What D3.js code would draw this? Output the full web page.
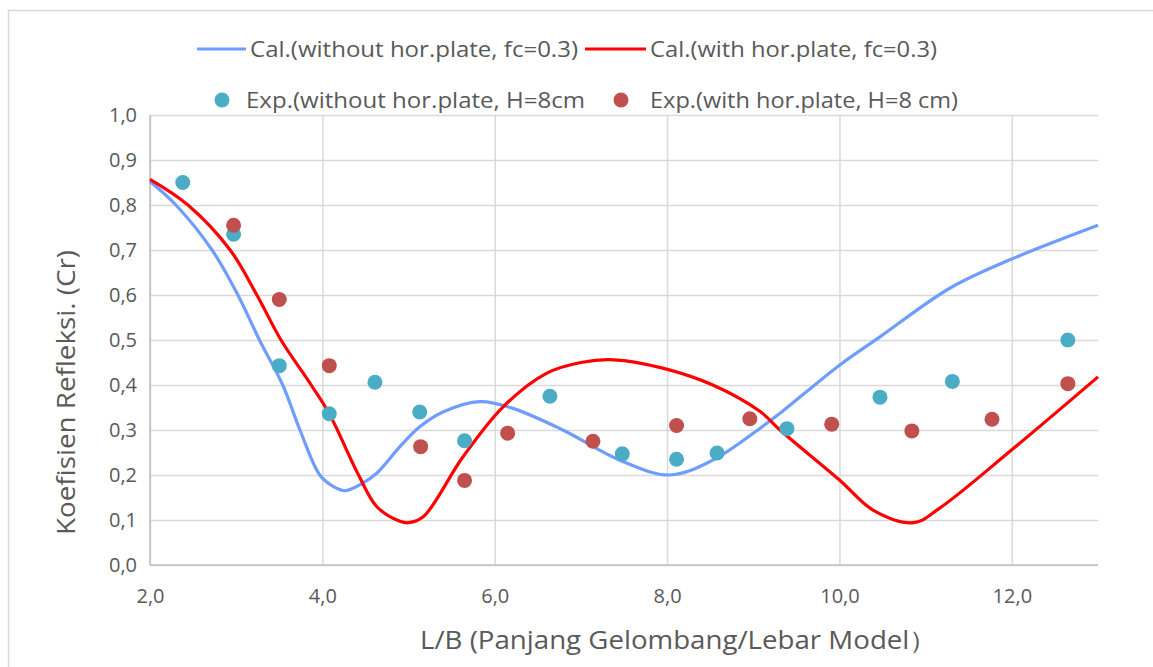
<!DOCTYPE html>
<html>
<head>
<meta charset="utf-8">
<script src="https://cdn.jsdelivr.net/npm/d3@7"></script>
<style>
html,body{margin:0;padding:0;background:#fff;}
svg{display:block;font-family:"Open Sans",sans-serif;}
</style>
</head>
<body>
<svg id="chart" width="1153" height="667"></svg>
<script>
// ---- data ----
const xTicks = [2, 4, 6, 8, 10, 12];
const yTicks = [0, 0.1, 0.2, 0.3, 0.4, 0.5, 0.6, 0.7, 0.8, 0.9, 1.0];

const calWithoutX = [2.0, 2.3, 2.72, 3.02, 3.27, 3.54, 3.74, 3.97, 4.13, 4.26, 4.45, 4.63, 4.9, 5.13, 5.4, 5.83, 6.21, 6.79, 7.45, 8.03, 8.53, 9.08, 9.31, 10.0, 10.47, 11.28, 12.0, 13.0];
const calWithoutY = [0.852, 0.80, 0.70, 0.60, 0.50, 0.40, 0.30, 0.20, 0.174, 0.165, 0.18, 0.204, 0.263, 0.307, 0.34, 0.363, 0.348, 0.30, 0.233, 0.20, 0.233, 0.304, 0.337, 0.444, 0.507, 0.615, 0.68, 0.755];

const calWithX = [2.0, 2.44, 2.93, 3.24, 3.52, 3.87, 4.08, 4.42, 4.63, 4.9, 5.0, 5.17, 5.63, 6.1, 6.6, 7.0, 7.38, 7.96, 8.53, 9.08, 9.31, 10.0, 10.39, 10.86, 11.16, 12.0, 13.0];
const calWithY = [0.857, 0.80, 0.70, 0.60, 0.50, 0.40, 0.336, 0.20, 0.13, 0.097, 0.094, 0.107, 0.24, 0.352, 0.426, 0.45, 0.456, 0.437, 0.40, 0.341, 0.30, 0.189, 0.122, 0.094, 0.126, 0.256, 0.418];

const expWithoutX = [2.38, 2.97, 3.50, 4.08, 4.61, 5.13, 5.65, 6.64, 7.48, 8.11, 8.58, 9.39, 10.47, 11.31, 12.65];
const expWithoutY = [0.85, 0.735, 0.443, 0.336, 0.406, 0.34, 0.276, 0.375, 0.247, 0.235, 0.249, 0.303, 0.373, 0.408, 0.50];

const expWithX = [2.97, 3.50, 4.08, 5.14, 5.65, 6.15, 7.14, 8.11, 8.96, 9.91, 10.84, 11.77, 12.65];
const expWithY = [0.755, 0.590, 0.443, 0.263, 0.188, 0.293, 0.275, 0.31, 0.325, 0.313, 0.298, 0.324, 0.403];

const seriesNames = [
  "Cal.(without hor.plate, fc=0.3)",
  "Cal.(with hor.plate, fc=0.3)",
  "Exp.(without hor.plate, H=8cm",
  "Exp.(with hor.plate, H=8 cm)"
];
const xTitle = "L/B (Panjang Gelombang/Lebar Model\uFF09";
const yTitle = "Koefisien Refleksi. (Cr)";

// ---- layout ----
const svg = d3.select("#chart");
const W = 1153, H = 667;
const plot = {left: 150, right: 1098, top: 115, bottom: 565};
const textCol = "#595959";
const gridCol = "#D9D9D9";
const blueCol = "#6F9DFF", redCol = "#FF0000", tealCol = "#4BACC6", brickCol = "#C0504D";

const x = d3.scaleLinear().domain([2, 13]).range([plot.left, plot.right]);
const y = d3.scaleLinear().domain([0, 1]).range([plot.bottom, plot.top]);

const fmt = d => d.toFixed(1).replace(".", ",");

// outer border
svg.append("path")
  .attr("d", `M8.5,${H+2} L8.5,10.5 L${W+2},10.5`)
  .attr("fill", "none").attr("stroke", gridCol).attr("stroke-width", 1.5);

// gridlines
const gy = svg.append("g")
  .attr("transform", `translate(${plot.left},0)`)
  .call(d3.axisLeft(y).tickValues(yTicks).tickSize(-(plot.right - plot.left)).tickFormat(""));
gy.select(".domain").remove();
gy.selectAll("line").attr("stroke", gridCol).attr("stroke-width", 1.5);

const gx = svg.append("g")
  .attr("transform", `translate(0,${plot.bottom})`)
  .call(d3.axisBottom(x).tickValues(xTicks).tickSize(-(plot.bottom - plot.top)).tickFormat(""));
gx.select(".domain").remove();
gx.selectAll("line").attr("stroke", gridCol).attr("stroke-width", 1.5);

// axis lines
svg.append("line").attr("x1", plot.left).attr("x2", plot.right)
  .attr("y1", plot.bottom).attr("y2", plot.bottom)
  .attr("stroke", "#BFBFBF").attr("stroke-width", 1.5);
svg.append("line").attr("x1", plot.left).attr("x2", plot.left)
  .attr("y1", plot.top).attr("y2", plot.bottom)
  .attr("stroke", "#BFBFBF").attr("stroke-width", 1.5);

// tick labels
const yl = svg.append("g")
  .attr("transform", `translate(${plot.left},0)`)
  .call(d3.axisLeft(y).tickValues(yTicks).tickSize(0).tickPadding(13).tickFormat(fmt));
yl.select(".domain").remove();

const xl = svg.append("g")
  .attr("transform", `translate(0,${plot.bottom})`)
  .call(d3.axisBottom(x).tickValues(xTicks).tickSize(0).tickPadding(24).tickFormat(fmt));
xl.select(".domain").remove();

[yl, xl].forEach(g => {
  g.attr("font-size", null).attr("font-family", null);
  g.selectAll("text")
    .attr("fill", textCol)
    .attr("font-family", "'Open Sans',sans-serif")
    .style("font-size", "20px");
});

// axis titles
svg.append("text")
  .attr("x", 420).attr("y", 649)
  .attr("fill", textCol)
  .attr("textLength", 517).attr("lengthAdjust", "spacingAndGlyphs")
  .style("font-size", "25px").text(xTitle);
svg.append("text")
  .attr("transform", "translate(75,535) rotate(-90)")
  .attr("fill", textCol)
  .attr("textLength", 285).attr("lengthAdjust", "spacingAndGlyphs")
  .style("font-size", "25px").text(yTitle);

// lines
const line = d3.line().x(d => x(d[0])).y(d => y(d[1])).curve(d3.curveCatmullRom.alpha(0.5));
const zip = (xs, ys) => xs.map((v, i) => [v, ys[i]]);

svg.append("path").datum(zip(calWithoutX, calWithoutY))
  .attr("d", line).attr("fill", "none").attr("stroke", blueCol)
  .attr("stroke-width", 3.2).attr("stroke-linejoin", "round");
svg.append("path").datum(zip(calWithX, calWithY))
  .attr("d", line).attr("fill", "none").attr("stroke", redCol)
  .attr("stroke-width", 3.2).attr("stroke-linejoin", "round");

// points
svg.append("g").selectAll("circle").data(zip(expWithoutX, expWithoutY)).join("circle")
  .attr("cx", d => x(d[0])).attr("cy", d => y(d[1])).attr("r", 7.5).attr("fill", tealCol);
svg.append("g").selectAll("circle").data(zip(expWithX, expWithY)).join("circle")
  .attr("cx", d => x(d[0])).attr("cy", d => y(d[1])).attr("r", 7.5).attr("fill", brickCol);

// legend
const leg = svg.append("g").style("font-size", "22px");
const legText = (xx, yy, w, t) => leg.append("text").attr("x", xx).attr("y", yy).attr("fill", textCol)
  .attr("textLength", w).attr("lengthAdjust", "spacingAndGlyphs").text(t);
leg.append("line").attr("x1", 197).attr("x2", 246).attr("y1", 49).attr("y2", 49)
  .attr("stroke", blueCol).attr("stroke-width", 3.2);
legText(250, 57, 328, seriesNames[0]);
leg.append("line").attr("x1", 585).attr("x2", 646).attr("y1", 49).attr("y2", 49)
  .attr("stroke", redCol).attr("stroke-width", 3.2);
legText(650, 57, 287, seriesNames[1]);
leg.append("circle").attr("cx", 222).attr("cy", 100).attr("r", 7.5).attr("fill", tealCol);
legText(246, 108, 339, seriesNames[2]);
leg.append("circle").attr("cx", 621).attr("cy", 100).attr("r", 7.5).attr("fill", brickCol);
legText(650, 108, 308, seriesNames[3]);
</script>
</body>
</html>
